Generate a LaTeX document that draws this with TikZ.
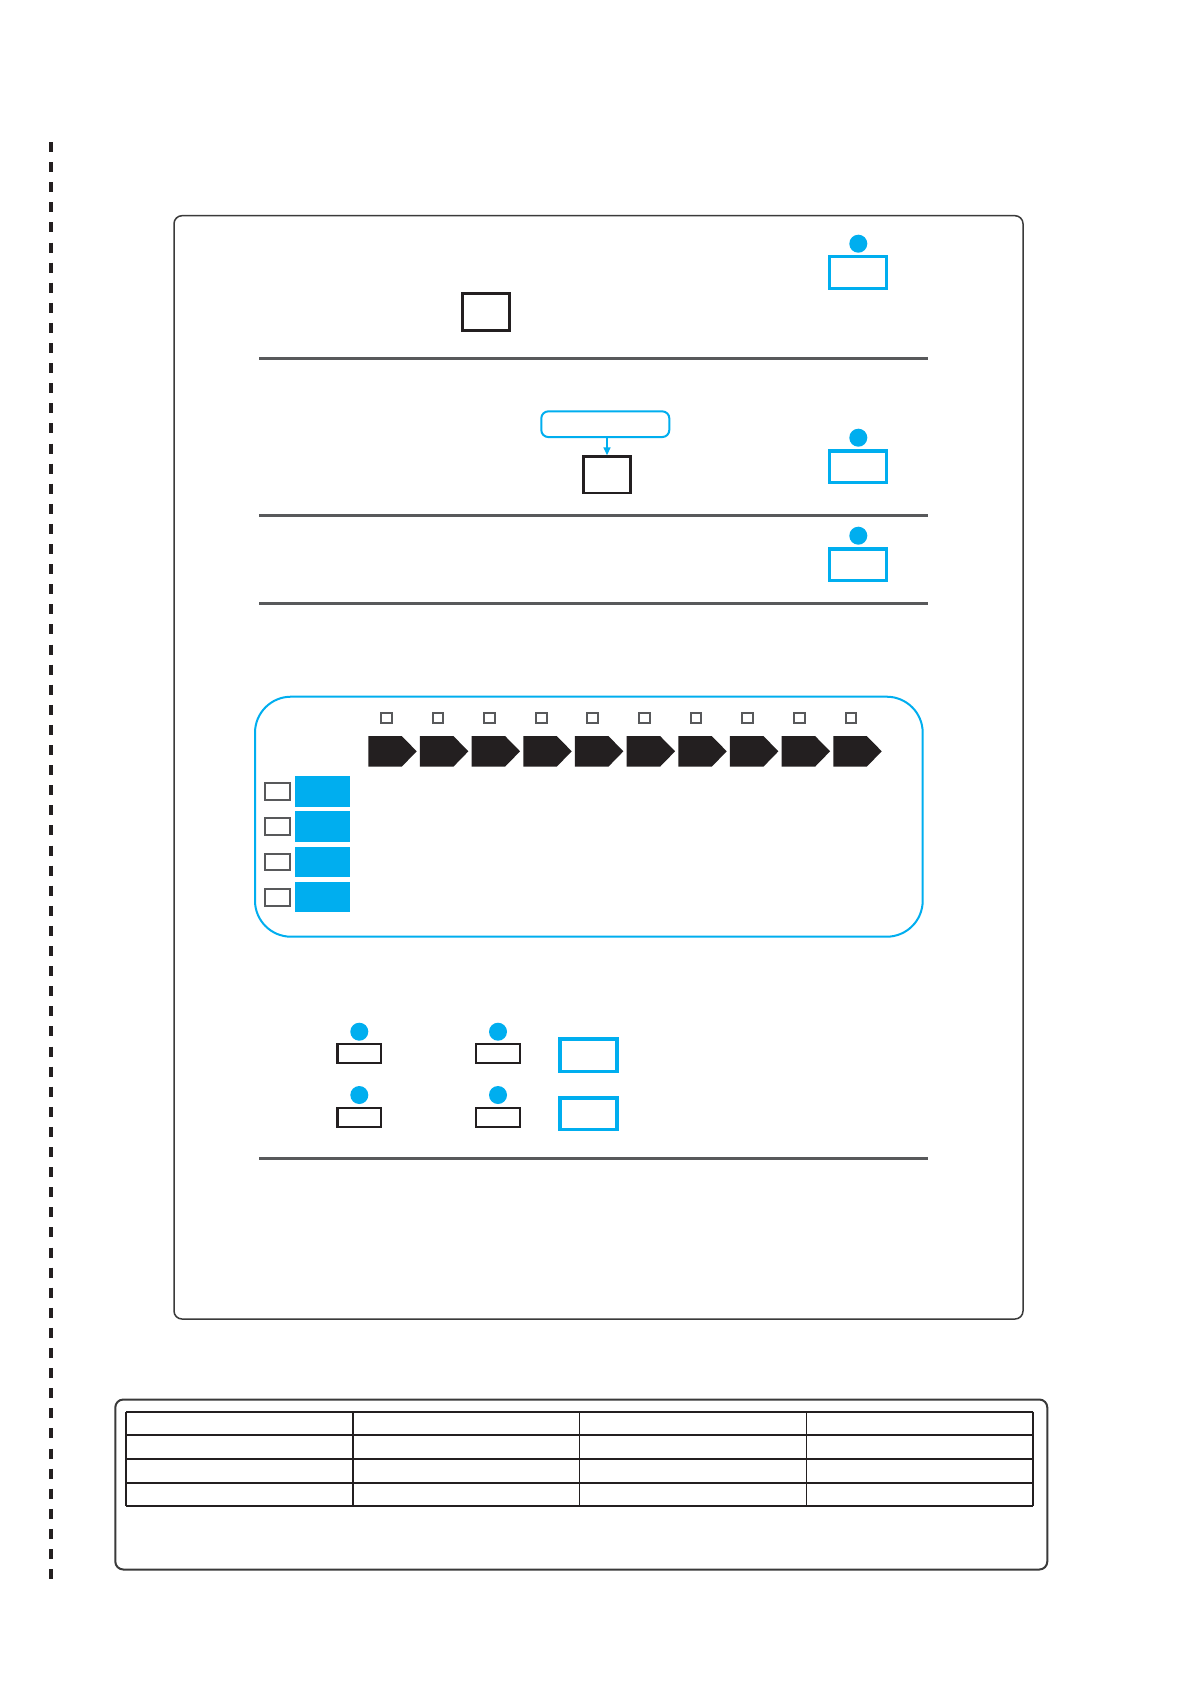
\documentclass[tikz,border=0pt]{standalone}
\usetikzlibrary{arrows.meta}
\definecolor{cyanblue}{HTML}{00AEEF}
\definecolor{ink}{HTML}{231F20}
\definecolor{rulegray}{HTML}{58595B}
\definecolor{framegray}{HTML}{3A3A3A}
\tikzset{
  bluebox/.style={draw=cyanblue, line width=3.3pt, minimum width=57.5pt, minimum height=31.8pt, inner sep=0pt},
  bluedot/.style={circle, fill=cyanblue, minimum size=18pt, inner sep=0pt},
  blackbox/.style={draw=ink, line width=2.6pt, inner sep=0pt},
  smallbox/.style={draw=rulegray, line width=2pt, inner sep=0pt},
  bluefill/.style={fill=cyanblue, minimum width=55pt, minimum height=30.5pt, inner sep=0pt},
  grayrule/.style={draw=rulegray, line width=3pt},
  chev/.style={fill=ink},
}
\begin{document}
\begin{tikzpicture}[x=1pt,y=-1pt]
\useasboundingbox (0,0) rectangle (1191,1684);
\fill[white] (0,0) rectangle (1191,1684);

% dashed cut line
\coordinate (dtop) at (51,142);
\coordinate (dbot) at (51,1584);
\draw[ink, line width=3.5pt, dash pattern=on 10pt off 10.1pt] (dtop) -- (dbot);

% main frame
\draw[framegray, line width=1.5pt, rounded corners=8pt] (174,215.7) rectangle (1023,1319);

% rules
\foreach \yy in {358,515.7,603.7,1158.7} \draw[grayrule] (259,\yy) -- (928,\yy);

% section 1
\node[blackbox, minimum width=46.8pt, minimum height=36.8pt] (b1) at (486,312) {};
\node[bluebox] (bb1) at (858,272.7) {};
\node[bluedot] (d1) at (858.3,243.7) {};

% section 2
\node[draw=cyanblue, line width=2pt, rounded corners=7pt, minimum width=128pt, minimum height=25.7pt, inner sep=0pt] (rr) at (605.3,424.2) {};
\node[blackbox, minimum width=46.8pt, minimum height=36.4pt] (b2) at (607,474.8) {};
\draw[cyanblue, line width=1.5pt, -{Triangle[length=8pt,width=7pt]}] (rr.south -| b2.north) -- (b2.north);
\node[bluebox] (bb2) at (858,466.8) {};
\node[bluedot] (d2) at (858.3,437.7) {};

% section 3
\node[bluebox] (bb3) at (858,564.8) {};
\node[bluedot] (d3) at (858.3,535.7) {};

% big blue frame
\draw[cyanblue, line width=2pt, rounded corners=36pt] (255,696.7) rectangle (922.7,936.7);

% top squares and chevrons
\foreach \i in {0,...,9} {
  \node[smallbox, minimum width=10.7pt, minimum height=10.7pt] (sq\i) at ({386.3+51.63*\i},718) {};
  \pgfmathsetmacro{\L}{368.3+51.67*\i}
  \fill[chev] (\L,736) -- (\L+33.4,736) -- (\L+48.4,751.3) -- (\L+33.4,766.7) -- (\L,766.7) -- cycle;
}

% left rows
\foreach \i in {0,...,3} {
  \node[bluefill] (bf\i) at (322.5,{791.3+35.3*\i}) {};
  \node[smallbox, minimum width=24.4pt, minimum height=16.7pt] (lb\i) at (277.5,{791.3+35.3*\i}) {};
}

% bottom section
\node[bluedot] (e1) at (359.3,1031.7) {};
\node[blackbox, line width=2.3pt, minimum width=43.7pt, minimum height=19pt] (k1) at (359.3,1053.3) {};
\node[bluedot] (e2) at (359.3,1095) {};
\node[blackbox, line width=2.3pt, minimum width=43.7pt, minimum height=19pt] (k2) at (359.3,1117.3) {};
\node[bluedot] (e3) at (498,1031.7) {};
\node[blackbox, line width=2.3pt, minimum width=43.7pt, minimum height=19pt] (k3) at (497.8,1053.3) {};
\node[bluedot] (e4) at (498,1095) {};
\node[blackbox, line width=2.3pt, minimum width=43.7pt, minimum height=19pt] (k4) at (497.8,1117.3) {};
\node[bluebox, minimum width=57.1pt, minimum height=32.4pt] (q1) at (588.5,1055.2) {};
\node[bluebox, minimum width=57.1pt, minimum height=31.7pt] (q2) at (588.5,1113.8) {};

% table frame
\draw[framegray, line width=2pt, rounded corners=8pt] (115.3,1399.5) rectangle (1047.3,1569.5);
\foreach \yy in {1411.7,1435.3,1459.3,1483.3,1506.3} \draw[ink, line width=2pt] (126.3,\yy) -- (1033.3,\yy);
\draw[ink, line width=2pt] (126.3,1411.7) -- (126.3,1506.3);
\draw[ink, line width=2pt] (1033.3,1411.7) -- (1033.3,1506.3);
\foreach \xx in {353,579.8,806.5} \draw[ink, line width=1.3pt] (\xx,1411.7) -- (\xx,1506.3);
\end{tikzpicture}
\end{document}
